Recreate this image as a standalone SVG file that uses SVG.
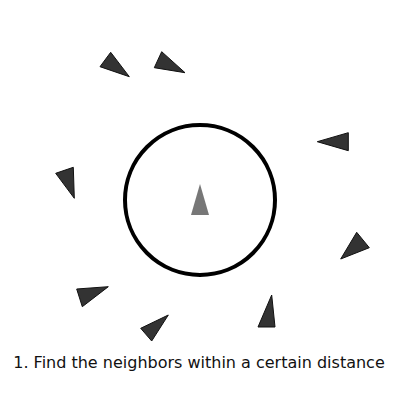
<svg xmlns="http://www.w3.org/2000/svg" width="400" height="400" viewBox="0 0 400 400">
<style>
.boid{fill:#333;stroke:#111;stroke-width:1;stroke-linejoin:round}
.me{fill:#777;stroke:none}
.ring{fill:none;stroke:#000;stroke-width:4}
.cap{font-family:"DejaVu Sans",Verdana,sans-serif;font-size:16px;fill:#111}
</style>
<rect width="400" height="400" fill="#fff"/>
<circle class="ring" cx="200" cy="200" r="75"/>
<polygon class="me" points="200,184 191,215 209,215"/>
<polygon class="boid" points="110.7,52.3 100,66.7 129.3,76.7"/>
<polygon class="boid" points="161.7,51.7 154.3,67.7 185,72.7"/>
<polygon class="boid" points="317.3,141.7 348.3,132.7 348.3,150.7"/>
<polygon class="boid" points="55.7,173.3 73.3,167.3 74.3,198.3"/>
<polygon class="boid" points="356.7,232.3 369.3,247.7 340.7,259"/>
<polygon class="boid" points="76.7,289 108.3,286.7 82.3,306.7"/>
<polygon class="boid" points="168.3,315 140.7,328.3 151.7,341"/>
<polygon class="boid" points="271.7,295 258,327 275,327"/>
<text class="cap" x="199" y="368" text-anchor="middle">1. Find the neighbors within a certain distance</text>
</svg>
